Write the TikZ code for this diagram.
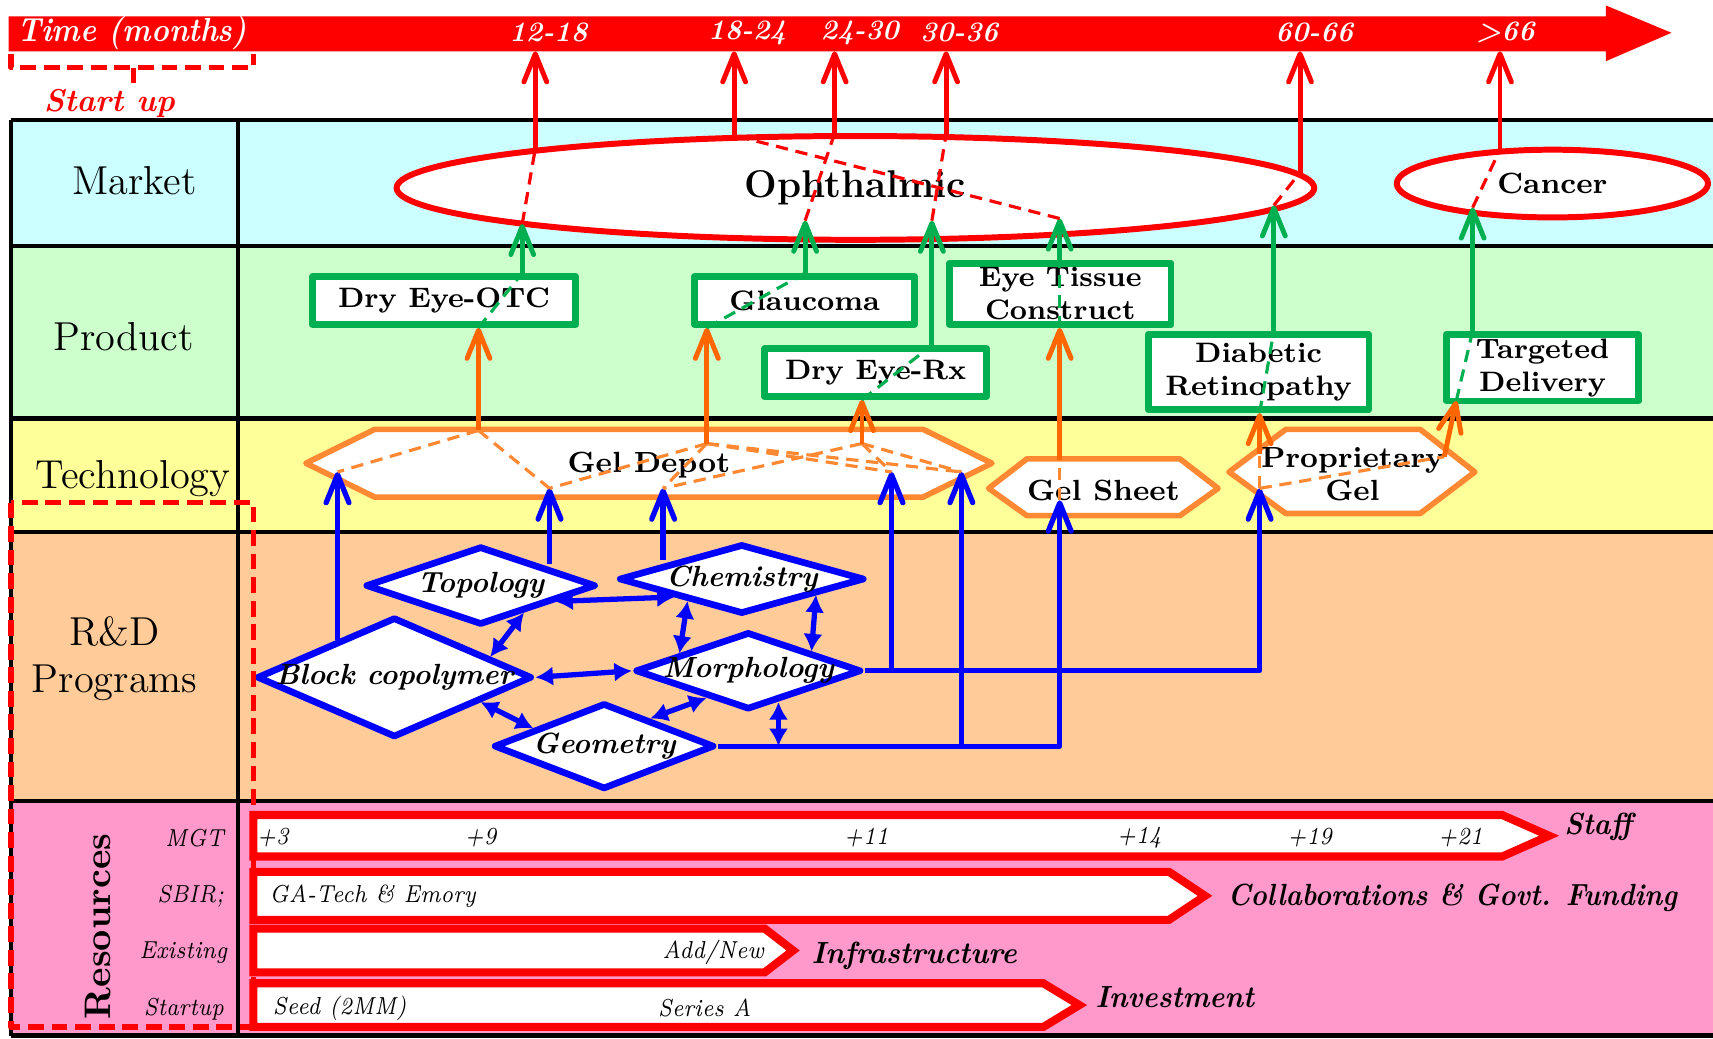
\documentclass[tikz,border=0pt]{standalone}
\usetikzlibrary{arrows.meta,shapes.geometric,calc}

\definecolor{roadred}{HTML}{FF0000}
\definecolor{prodgreen}{HTML}{00B050}
\definecolor{hexorange}{HTML}{FF8833}
\definecolor{linkorange}{HTML}{FF6600}
\definecolor{rdblue}{HTML}{0000FF}
\definecolor{marketbg}{HTML}{CCFFFF}
\definecolor{productbg}{HTML}{CCFFCC}
\definecolor{techbg}{HTML}{FFFF99}
\definecolor{rdbg}{HTML}{FFCC99}
\definecolor{resbg}{HTML}{FF99CC}

\newlength\pu
\setlength\pu{0.010925cm}
% narrow italic, as in the bars
\newcommand{\condtext}[2][0.86]{\scalebox{#1}[1]{#2}}

\begin{document}
\begin{tikzpicture}[x=0.010925cm, y=-0.010925cm, line join=round,
		>={Straight Barb[length=8pt,width=6.5pt,round]},
		grid/.style={black, line width=1.3pt},
		rowlabel/.style={font=\fontsize{11.5}{13.5}\selectfont, align=center},
		timelabel/.style={text=white, font=\fontsize{8}{9}\selectfont\bfseries\itshape},
		market/.style={ellipse, draw=roadred, line width=1.7pt, fill=white, inner sep=0pt},
		prodbox/.style={draw=prodgreen, line width=1.9pt, fill=white, inner sep=0pt, align=center,
			font=\fontsize{8}{9.4}\selectfont\bfseries},
		hexline/.style={draw=hexorange, line width=1.6pt, fill=white},
		hextext/.style={align=center, font=\fontsize{8.3}{9.6}\selectfont\bfseries},
		rdnode/.style={diamond, draw=rdblue, line width=1.9pt, fill=white, inner sep=0pt},
		rdtext/.style={font=\fontsize{8.3}{10}\selectfont\bfseries\itshape},
		redarrow/.style={->, roadred, line width=1.4pt},
		greenarrow/.style={->, prodgreen, line width=1.4pt},
		orangearrow/.style={->, linkorange, line width=1.4pt},
		bluearrow/.style={->, rdblue, line width=1.5pt},
		dblarrow/.style={rdblue, line width=1.5pt,
			arrows={Latex[length=5pt,width=5.5pt]-Latex[length=5pt,width=5.5pt]}},
		reddash/.style={roadred, line width=0.9pt, dash pattern=on 3.5pt off 2.2pt},
		greendash/.style={prodgreen, line width=0.9pt, dash pattern=on 3.5pt off 2.2pt},
		orangedash/.style={hexorange, line width=0.9pt, dash pattern=on 3.5pt off 2.2pt},
		boxdash/.style={roadred, line width=1.5pt, dash pattern=on 4.5pt off 2.2pt},
		resbar/.style={draw=roadred, line width=2.3pt, fill=white, line join=miter},
		bartext/.style={font=\fontsize{7}{8}\selectfont\itshape, inner sep=1pt},
		restitle/.style={font=\fontsize{8.7}{10}\selectfont\bfseries\itshape, inner sep=1pt}]
	% Window bounds
	\def\xleft{10} \def\xright{1568}
	\useasboundingbox (0,0) rectangle (1568,951);
	
	% Row backgrounds
	\fill[marketbg] (\xleft,110) rectangle (\xright,225);
	\fill[productbg] (\xleft,225) rectangle (\xright,383);
	\fill[techbg] (\xleft,383) rectangle (\xright,487);
	\fill[rdbg] (\xleft,487) rectangle (\xright,733);
	\fill[resbg] (\xleft,733) rectangle (\xright,948);
	
	% Table lines
	\foreach \yy in {110,225,383,487,733,948}
	\draw[grid] (\xleft,\yy) -- (\xright,\yy);
	\draw[grid] (\xleft,110) -- (\xleft,948);
	\draw[grid] (218,110) -- (218,948);
	
	% Row labels
	\node[rowlabel] (lmarket) at (123,165) {Market};
	\node[rowlabel] (lproduct) at (113,308) {Product};
	\node[rowlabel] (ltech) at (122,438) {Technology};
	\node[rowlabel] (lrd) at (105,603) {R\&D\\Programs};
	\node[rotate=90, font=\fontsize{10.5}{12}\selectfont\bfseries] (lres) at (90,848) {Resources};
	
	% Time axis
	\fill[roadred] (8,15) -- (1470,15) -- (1470,5) -- (1530,30) -- (1470,56) -- (1470,47) -- (8,47) -- cycle;
	\coordinate (bandlow) at (0,47);
	\node[timelabel, anchor=west, inner sep=1pt, font=\fontsize{9.5}{11}\selectfont\bfseries\itshape] (ttitle) at (12,30) {\condtext[0.9]{Time (months)}};
	\node[timelabel] (t1) at (502,30) {12-18};
	\node[timelabel] (t2) at (684,30) {18-24};
	\node[timelabel] (t3) at (787,30) {24-30};
	\node[timelabel] (t4) at (878,30) {30-36};
	\node[timelabel] (t5) at (1203,30) {60-66};
	\node[timelabel] (t6) at (1378,30) {>66};
	
	% Start up bracket
	\draw[boxdash] (10,49) -- (10,62) -- (232,62) -- (232,49);
	\draw[boxdash] (122,62) -- (122,76);
	\node[text=roadred, font=\fontsize{9}{10}\selectfont\bfseries\itshape] (startup) at (100,95) {Start up};
	
	% Markets
	\node[market, minimum width=840*\pu, minimum height=95*\pu, font=\fontsize{11}{13}\selectfont\bfseries] (ophth) at (783,172) {Ophthalmic};
	\node[market, minimum width=285*\pu, minimum height=62*\pu, font=\fontsize{8.3}{10}\selectfont\bfseries] (cancer) at (1421,168) {Cancer};
	
	% Products
	\node[prodbox, minimum width=241*\pu, minimum height=44*\pu] (otc) at (406.5,275) {Dry Eye-OTC};
	\node[prodbox, minimum width=201*\pu, minimum height=44*\pu] (glaucoma) at (736.5,275) {Glaucoma};
	\node[prodbox, minimum width=203*\pu, minimum height=44*\pu] (rx) at (801.5,341) {Dry Eye-Rx};
	\node[prodbox, minimum width=203*\pu, minimum height=56*\pu] (tissue) at (970.5,269) {Eye Tissue\\Construct};
	\node[prodbox, minimum width=202*\pu, minimum height=69*\pu] (diabetic) at (1152,340.5) {Diabetic\\Retinopathy};
	\node[prodbox, minimum width=176*\pu, minimum height=61*\pu] (targeted) at (1412,336.5) {Targeted\\Delivery};
	
	% Technologies
	\draw[hexline] (280,424) -- (343,393) -- (845,393) -- (908,424) -- (845,455) -- (343,455) -- cycle;
	\node[hextext] (depot) at (594,426) {Gel Depot};
	\draw[hexline] (905,447) -- (940,420) -- (1080,420) -- (1115,447) -- (1080,472) -- (940,472) -- cycle;
	\node[hextext] (sheet) at (1010,449) {Gel Sheet};
	\draw[hexline] (1125,432) -- (1177,393) -- (1300,393) -- (1350,432) -- (1300,470) -- (1177,470) -- cycle;
	\node[hextext] (propgel) at (1238,434) {Proprietary\\Gel};
	
	% R&D programs
	\node[rdnode, minimum width=211*\pu, minimum height=72*\pu, label={[rdtext]center:Topology}] (topo) at (440,536) {};
	\node[rdnode, minimum width=225*\pu, minimum height=64*\pu, label={[rdtext]center:Chemistry}] (chem) at (679,530) {};
	\node[rdnode, minimum width=252*\pu, minimum height=110*\pu, label={[rdtext]center:Block copolymer}] (block) at (361,620) {};
	\node[rdnode, minimum width=207*\pu, minimum height=71*\pu, label={[rdtext]center:Morphology}] (morph) at (685,614) {};
	\node[rdnode, minimum width=202*\pu, minimum height=79*\pu, label={[rdtext]center:Geometry}] (geom) at (553,683) {};
	
	% Link points
	\coordinate (tA) at (438,394);
	\coordinate (tB) at (647,406);
	\coordinate (tC) at (789,406);
	\coordinate (d1) at (309,432);
	\coordinate (d2) at (503,447);
	\coordinate (d3) at (607,447);
	\coordinate (d4) at (816,432);
	\coordinate (d5) at (880,432);
	\coordinate (sheetin) at (970,458);
	\coordinate (sheettop) at (970,421);
	\coordinate (propin) at (1153,447);
	\coordinate (proptop) at (1153,416);
	\coordinate (propout) at (1322,418);
	\coordinate (tgbase) at (1333,367);
	\coordinate (g1) at (478,205);
	\coordinate (g2) at (737,202);
	\coordinate (g3) at (853,202);
	\coordinate (g4) at (970,200);
	\coordinate (g5) at (1166,188);
	\coordinate (g6) at (1348,190);
	\coordinate (r1) at (490,136);
	\coordinate (r2) at (672,124);
	\coordinate (r3) at (764,122);
	\coordinate (r4) at (866,123);
	\coordinate (r5) at (1190,158);
	\coordinate (r6) at (1373,137);
	
	% R&D to technology
	\draw[bluearrow] (d1 |- block.147) -- (d1);
	\draw[bluearrow] (d2 |- topo.north east) -- (d2);
	\draw[bluearrow] (d3 |- chem.north west) -- (d3);
	\draw[bluearrow] (morph.east) -- (morph.east -| propin) -- (propin);
	\draw[bluearrow] (morph.east -| d4) -- (d4);
	\draw[bluearrow] (geom.east) -- (geom.east -| sheetin) -- (sheetin);
	\draw[bluearrow] (geom.east -| d5) -- (d5);
	
	% Links between programs
	\draw[dblarrow] (topo.-12) -- (chem.195);
	\draw[dblarrow] (topo.-32) -- (block.12);
	\draw[dblarrow] (chem.202) -- (morph.166);
	\draw[dblarrow] (chem.-12) -- (morph.17);
	\draw[dblarrow] (block.east) -- (morph.west);
	\draw[dblarrow] (block.-16) -- (geom.166);
	\draw[dblarrow] (morph.213) -- (geom.31);
	\draw[dblarrow] (morph.-46) -- (morph.-46 |- geom.east);
	
	% Dashed paths inside technologies
	\foreach \a/\b in {tA/d1, tA/d2, tB/d2, tB/d3, tB/d4, tB/d5, tC/d3, tC/d4, tC/d5}
	\draw[orangedash] (\a) -- (\b);
	\draw[orangedash] (sheetin) -- (sheettop);
	\draw[orangedash] (propin) -- (proptop);
	\draw[orangedash] (propin) -- (propout);
	
	% Technology to product
	\draw[orangearrow] (tA) -- (tA |- otc.south);
	\draw[orangearrow] (tB) -- (tB |- glaucoma.south);
	\draw[orangearrow] (tC) -- (tC |- rx.south);
	\draw[orangearrow] (sheettop) -- (sheettop |- tissue.south);
	\draw[orangearrow] (proptop) -- (proptop |- diabetic.south);
	\draw[orangearrow] (propout) -- (tgbase);
	
	% Dashed paths inside products
	\draw[greendash] (tA |- otc.south) -- (g1 |- otc.north);
	\draw[greendash] (tB |- glaucoma.south) -- (g2 |- glaucoma.north);
	\draw[greendash] (tC |- rx.south) -- (g3 |- rx.north);
	\draw[greendash] (sheettop |- tissue.south) -- (g4 |- tissue.north);
	\draw[greendash] (proptop |- diabetic.south) -- (g5 |- diabetic.north);
	\draw[greendash] (tgbase) -- (g6 |- targeted.north);
	
	% Product to market
	\draw[greenarrow] (g1 |- otc.north) -- (g1);
	\draw[greenarrow] (g2 |- glaucoma.north) -- (g2);
	\draw[greenarrow] (g3 |- rx.north) -- (g3);
	\draw[greenarrow] (g4 |- tissue.north) -- (g4);
	\draw[greenarrow] (g5 |- diabetic.north) -- (g5);
	\draw[greenarrow] (g6 |- targeted.north) -- (g6);
	
	% Dashed paths inside markets
	\foreach \a/\b in {g1/r1, g2/r3, g3/r4, g4/r2, g5/r5, g6/r6}
	\draw[reddash] (\a) -- (\b);
	
	% Market to time
	\foreach \r in {r1,r2,r3,r4,r5,r6}
	\draw[redarrow] (\r) -- (\r |- bandlow);
	
	% Resource bars
	\draw[resbar] (232,746) -- (1375,746) -- (1418,765) -- (1375,784) -- (232,784) -- cycle;
	\draw[resbar] (232,798) -- (1070,798) -- (1103,820) -- (1070,842) -- (232,842) -- cycle;
	\draw[resbar] (232,850) -- (700,850) -- (726,870) -- (700,890) -- (232,890) -- cycle;
	\draw[resbar] (232,900) -- (955,900) -- (988,920) -- (955,940) -- (232,940) -- cycle;
	
	% Resource row labels
	\node[bartext, anchor=east] (lmgt) at (209,767) {\condtext{MGT}};
	\node[bartext, anchor=east] (lsbir) at (209,820) {\condtext{SBIR;}};
	\node[bartext, anchor=east] (lexist) at (212,872) {\condtext{Existing}};
	\node[bartext, anchor=east] (lstart) at (209,924) {\condtext{Startup}};
	
	% Texts on the bars
	\node[bartext] (s3) at (250,767) {\condtext{+3}};
	\node[bartext] (s9) at (440,767) {\condtext{+9}};
	\node[bartext] (s11) at (793,767) {\condtext{+11}};
	\node[bartext] (s14) at (1043,767) {\condtext{+14}};
	\node[bartext] (s19) at (1199,767) {\condtext{+19}};
	\node[bartext] (s21) at (1337,767) {\condtext{+21}};
	\node[bartext, anchor=west] (collab) at (243,820) {\condtext{GA-Tech \& Emory}};
	\node[bartext] (addnew) at (653,872) {\condtext{Add/New}};
	\node[bartext, anchor=west] (seed) at (246,923) {\condtext{Seed (2MM)}};
	\node[bartext] (seriesa) at (645,923) {\condtext{Series A}};
	
	% Resource titles
	\node[restitle, anchor=west] (staff) at (1428,757) {\condtext[0.93]{Staff}};
	\node[restitle, anchor=west] (funding) at (1120,822) {\condtext[0.9]{Collaborations \& Govt. Funding}};
	\node[restitle, anchor=west] (infra) at (739,875) {\condtext[0.95]{Infrastructure}};
	\node[restitle, anchor=west] (invest) at (999,913) {\condtext[0.93]{Investment}};
	
	% Start-up frame
	\draw[boxdash] (10,460) rectangle (232,940);
\end{tikzpicture}
\end{document}
